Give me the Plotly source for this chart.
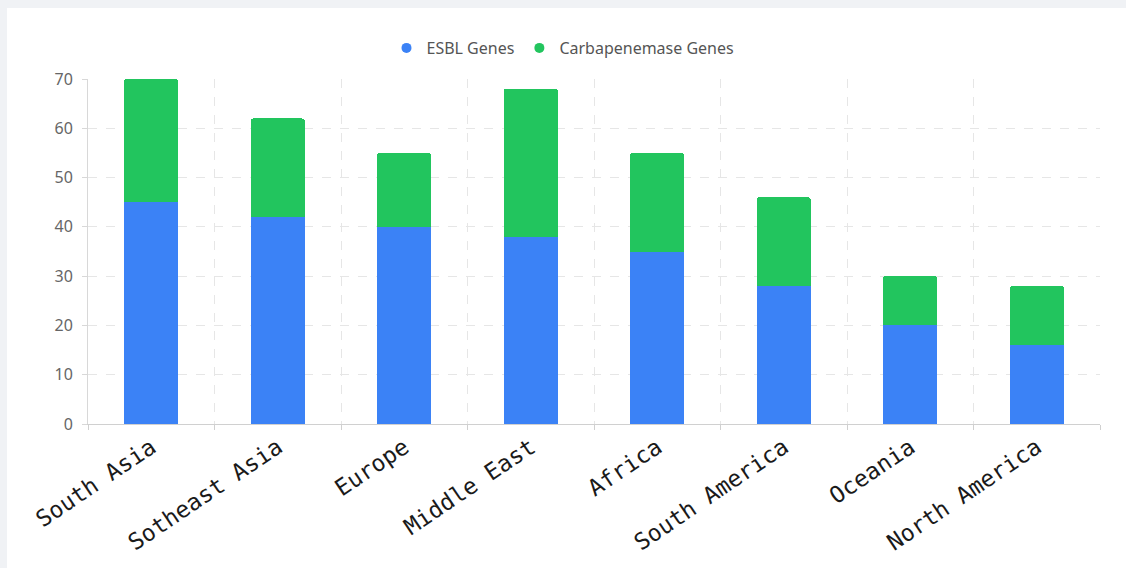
import plotly.graph_objects as go

# Regions and gene counts per resistance class
regions = ["South Asia", "Sotheast Asia", "Europe", "Middle East", "Africa",
           "South America", "Oceania", "North America"]
esbl_genes = [45, 42, 40, 38, 35, 28, 20, 16]
carbapenemase_genes = [25, 20, 15, 30, 20, 18, 10, 12]
y_ticks = [0, 10, 20, 30, 40, 50, 60, 70]

BLUE = "#3B82F6"
GREEN = "#22C55E"

W, H = 1126, 568
ML, MR, MT, MB = 88, 26, 79, 144
PW, PH = W - ML - MR, H - MT - MB


def px_x(p):
    return (p - ML) / PW


def px_y(p):
    return (H - MB - p) / PH


fig = go.Figure()

fig.add_trace(go.Bar(x=regions, y=esbl_genes, name="ESBL Genes",
                     marker=dict(color=BLUE, line=dict(width=0)),
                     showlegend=False))
fig.add_trace(go.Bar(x=regions, y=carbapenemase_genes, name="Carbapenemase Genes",
                     marker=dict(color=GREEN, line=dict(width=0)),
                     showlegend=False))

# Circular legend keys
for name, color in [("ESBL Genes", BLUE), ("Carbapenemase Genes", GREEN)]:
    fig.add_trace(go.Scatter(x=[None], y=[None], mode="markers", name=name,
                             marker=dict(symbol="circle", size=10, color=color)))

# White card on a light grey page
fig.add_shape(type="rect", xref="paper", yref="paper",
              x0=px_x(7), x1=px_x(W + 2), y0=px_y(H + 2), y1=px_y(8),
              fillcolor="white", line=dict(width=0), layer="below")

fig.update_layout(
    width=W, height=H,
    margin=dict(l=ML, r=MR, t=MT, b=MB),
    paper_bgcolor="#F0F2F5",
    plot_bgcolor="rgba(0,0,0,0)",
    barmode="stack",
    bargap=0.57,
    barcornerradius=3,
    legend=dict(orientation="h", x=px_x(563), xanchor="center",
                y=px_y(48), yanchor="middle", traceorder="normal",
                font=dict(family="Noto Sans, Open Sans, sans-serif", size=16, color="#555"),
                itemwidth=30, bgcolor="rgba(0,0,0,0)"),
    xaxis=dict(
        type="category",
        tickson="boundaries",
        showgrid=True, gridcolor="#E6E6E6", griddash="dash", gridwidth=1,
        showline=True, linecolor="#D0D0D0", linewidth=1,
        ticks="outside", ticklen=5, tickcolor="#D0D0D0",
        tickangle=-34,
        tickfont=dict(family="DejaVu Sans Mono, Liberation Mono, monospace",
                      size=23, color="#1a1a1a"),
        zeroline=False,
    ),
    yaxis=dict(
        range=[0, 70],
        tickvals=y_ticks,
        showgrid=True, gridcolor="#E6E6E6", griddash="dash", gridwidth=1,
        showline=True, linecolor="#D8D8D8", linewidth=1,
        ticks="outside", ticklen=5, tickcolor="#D8D8D8",
        ticklabelstandoff=6,
        tickfont=dict(family="Noto Sans, Open Sans, sans-serif", size=16, color="#666"),
        zeroline=False,
    ),
)

fig.write_html("out.html")
